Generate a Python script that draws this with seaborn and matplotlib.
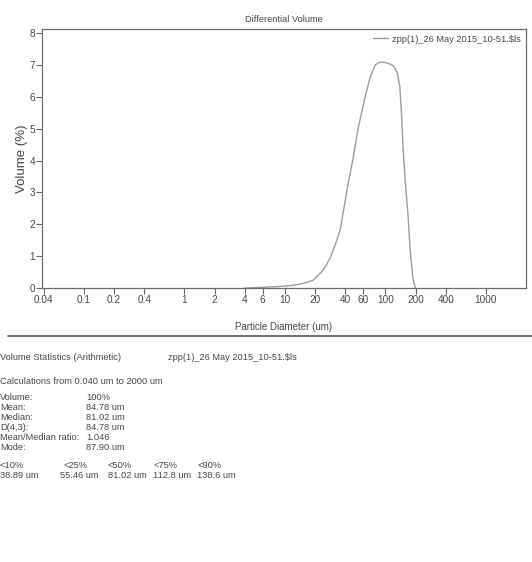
import matplotlib
matplotlib.use("Agg")
import matplotlib.pyplot as plt
import matplotlib.ticker as mticker
from matplotlib.lines import Line2D
import pandas as pd
import seaborn as sns

# ---- data ----
diameter_um = [4, 5, 6, 8, 10, 12, 15, 19, 23, 25.5, 28, 31.5, 35.5, 41.5, 48, 54, 63, 71,
               79.5, 88, 98, 108, 121, 131, 139, 145, 150, 158, 168, 176, 187, 198]
volume_pct = [0.0, 0.01, 0.02, 0.04, 0.06, 0.085, 0.14, 0.24, 0.5, 0.68, 0.93, 1.33, 1.82,
              3.08, 4.13, 5.07, 6.02, 6.65, 7.01, 7.09, 7.08, 7.05, 6.96, 6.75, 6.33,
              5.39, 4.34, 3.29, 2.24, 1.19, 0.35, 0.0]
series_name = "zpp(1)_26 May 2015_10-51.$ls"

major_ticks = [0.04, 0.1, 0.2, 0.4, 1, 2, 4, 6, 10, 20, 40, 60, 100, 200, 400, 1000]
major_labels = ["0.04", "0.1", "0.2", "0.4", "1", "2", "4", "6", "10", "20", "40", "60",
                "100", "200", "400", "1000"]
minor_ticks = [0.06, 0.08, 0.6, 0.8, 8, 80, 600, 800]
y_ticks = [0, 1, 2, 3, 4, 5, 6, 7, 8]

stats_labels = ["Volume:", "Mean:", "Median:", "D(4,3):", "Mean/Median ratio:", "Mode:"]
stats_values = ["100%", "84.78 um", "81.02 um", "84.78 um", "1.046", "87.90 um"]
pct_labels = ["<10%", "<25%", "<50%", "<75%", "<90%"]
pct_values = ["38.89 um", "55.46 um", "81.02 um", "112.8 um", "138.6 um"]

# ---- style ----
sns.set_style("white")
plt.rcParams["font.family"] = ["Liberation Sans", "DejaVu Sans"]
TXT = "#474747"
FS = 6.7

W, H = 532, 562
fig = plt.figure(figsize=(W / 100, H / 100), dpi=100)
fig.patch.set_facecolor("white")

def fx(px):
    return px / W

def fy(py):
    return 1 - py / H

left, right, top, bottom = 42, 526, 29, 288
ax = fig.add_axes([fx(left), fy(bottom), fx(right - left), (bottom - top) / H])

df = pd.DataFrame({"d": diameter_um, "v": volume_pct, "s": series_name})
sns.lineplot(data=df, x="d", y="v", hue="s", palette=["#9c9c9c"], linewidth=1.0, ax=ax)

ax.set_xscale("log")
ax.set_xlim(0.0384, 2500)
ax.set_ylim(0, 8.13)
ax.xaxis.set_major_locator(mticker.FixedLocator(major_ticks))
ax.xaxis.set_major_formatter(mticker.FixedFormatter(major_labels))
ax.xaxis.set_minor_locator(mticker.FixedLocator(minor_ticks))
ax.xaxis.set_minor_formatter(mticker.NullFormatter())
ax.set_yticks(y_ticks)
ax.tick_params(axis="both", which="major", direction="out", length=4, width=0.8,
               color="#666666", labelsize=FS + 0.5, labelcolor=TXT, pad=1.0)
ax.tick_params(axis="x", which="minor", direction="out", length=3, width=0.8,
               color="#666666")
ax.tick_params(left=True, bottom=True)
for sp in ax.spines.values():
    sp.set_color("#6a6a6a")
    sp.set_linewidth(0.9)

ax.set_xlabel("Particle Diameter (um)", fontsize=FS + 0.3, color=TXT, labelpad=12)
ax.set_ylabel("Volume (%)", fontsize=9.5, color=TXT, labelpad=1)
ax.set_title("Differential Volume", fontsize=FS, color=TXT, pad=5)

leg = ax.legend(loc="upper right", frameon=False, fontsize=FS, handlelength=1.6,
                handletextpad=0.4, borderaxespad=0.2, title=None)
for t in leg.get_texts():
    t.set_color(TXT)

# separator line
fig.add_artist(Line2D([fx(8), 1.0], [fy(336), fy(336)], color="#555555", linewidth=1.2))

# statistics block
fig.text(fx(0), fy(358), "Volume Statistics (Arithmetic)", fontsize=FS, color=TXT, va="center")
fig.text(fx(168), fy(358), series_name, fontsize=FS, color=TXT, va="center")
fig.text(fx(0), fy(381), "Calculations from 0.040 um to 2000 um", fontsize=FS, color=TXT,
         va="center")
row_y = [398, 408, 418, 428, 438, 448]
for lab, val, yy in zip(stats_labels, stats_values, row_y):
    fig.text(fx(0), fy(yy), lab, fontsize=FS, color=TXT, va="center")
    fig.text(fx(86), fy(yy), val, fontsize=FS, color=TXT, va="center")
col_x = [0, 63, 108, 153, 197]
val_x = [0, 60, 108, 153, 197]
for lab, val, x1, x2 in zip(pct_labels, pct_values, col_x, val_x):
    fig.text(fx(x1), fy(466), lab, fontsize=FS, color=TXT, va="center")
    fig.text(fx(x2), fy(476), val, fontsize=FS, color=TXT, va="center")

fig.savefig("out.png", dpi=100, facecolor="white")
